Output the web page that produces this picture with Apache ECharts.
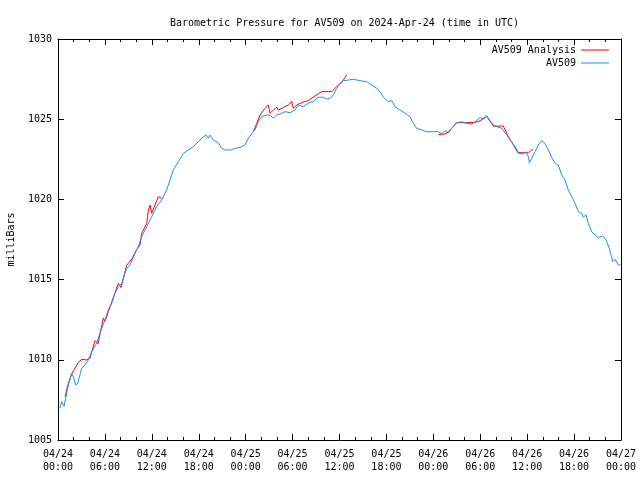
<!DOCTYPE html>
<html>
<head>
<meta charset="utf-8">
<script src="https://cdn.jsdelivr.net/npm/echarts@6/dist/echarts.min.js"></script>
<style>html,body{margin:0;padding:0;background:#fff}#c{width:640px;height:480px}</style>
</head>
<body>
<div id="c"></div>
<script>
// Hours since 2024-04-24 00:00 UTC
var stationHours = [0.26,0.47,0.77,1.11,1.32,1.75,1.96,2.26,2.52,3.03,3.45,3.88,4.31,4.95,5.59,6.01,6.43,6.87,7.29,7.71,8.15,8.48,8.79,9.21,9.85,10.27,10.7,11.34,11.98,12.62,13.26,13.9,14.32,14.75,15.39,16.03,16.66,17.3,17.94,18.58,18.93,19.22,19.44,19.86,20.5,20.94,21.36,22.22,22.64,23.28,23.92,24.34,24.77,25.19,25.62,26.05,26.69,27.11,27.54,27.97,28.61,29.03,29.67,30.31,30.73,31.37,32.01,32.65,33.29,33.93,34.36,34.79,35.21,35.64,36.07,36.49,37.13,37.77,38.62,39.48,40.12,40.76,41.18,41.6,42.24,42.68,43.1,43.74,44.38,45.02,45.44,45.88,46.52,47.15,48.0,48.64,49.07,49.49,49.92,50.35,50.99,51.63,52.27,52.91,53.33,53.97,54.39,54.83,55.25,55.89,56.75,57.39,58.03,58.45,58.87,59.51,59.85,60.15,60.28,60.58,61.0,61.43,61.86,62.28,62.71,63.14,63.56,63.98,64.42,64.84,65.26,65.7,66.12,66.54,66.98,67.18,67.53,67.82,68.26,68.68,69.1,69.66,70.09,70.51,70.94,71.24,71.66,71.96];
var stationPressure = [1006.98,1007.39,1007.1,1007.9,1008.43,1009.16,1008.95,1008.43,1008.53,1009.47,1009.68,1009.99,1010.5,1011.03,1011.96,1012.48,1013.1,1013.52,1014.15,1014.56,1014.77,1015.29,1015.7,1015.91,1016.64,1017.05,1017.67,1018.3,1018.92,1019.55,1019.96,1020.59,1021.2,1021.83,1022.35,1022.87,1023.08,1023.29,1023.6,1023.91,1024.01,1023.81,1024.01,1023.7,1023.53,1023.18,1023.08,1023.08,1023.18,1023.24,1023.39,1023.81,1024.11,1024.33,1024.84,1025.16,1025.26,1025.26,1025.06,1025.26,1025.36,1025.47,1025.41,1025.57,1025.89,1025.78,1026.0,1026.1,1026.37,1026.37,1026.25,1026.3,1026.51,1026.92,1027.24,1027.4,1027.44,1027.49,1027.4,1027.34,1027.13,1026.92,1026.72,1026.37,1026.1,1026.16,1025.78,1025.57,1025.37,1025.16,1024.74,1024.43,1024.33,1024.22,1024.22,1024.22,1024.08,1024.29,1024.16,1024.43,1024.78,1024.84,1024.74,1024.7,1024.84,1025.11,1024.99,1025.2,1024.84,1024.57,1024.43,1024.01,1023.6,1023.18,1022.87,1022.83,1022.97,1022.67,1022.29,1022.56,1022.97,1023.39,1023.66,1023.49,1023.08,1022.62,1022.25,1022.14,1021.52,1021.21,1020.59,1020.17,1019.76,1019.24,1019.13,1018.89,1019.03,1018.51,1017.99,1017.78,1017.61,1017.72,1017.47,1016.95,1016.12,1016.26,1015.91,1015.91];

var analysisHours1 = [0.9,1.32,1.75,2.17,2.6,3.03,3.67,4.09,4.73,5.12,5.79,6.01,6.65,7.16,7.71,8.06,8.79,9.46,9.98,10.49,10.7,11.34,11.55,11.77,11.98,12.41,12.83,13.26];
var analysisPressure1 = [1007.7,1008.53,1009.1,1009.47,1009.82,1010.03,1009.99,1010.1,1011.2,1011.0,1012.6,1012.4,1013.3,1014.0,1014.77,1014.5,1015.9,1016.3,1016.8,1017.16,1017.88,1018.5,1019.34,1019.65,1019.13,1019.65,1020.17,1020.07];
var analysisHours2 = [24.98,25.41,25.83,26.47,26.9,27.11,27.54,27.97,28.18,28.81,29.45,29.89,30.09,30.53,31.17,32.01,32.87,33.73,35.0,35.64,36.28,36.92];
var analysisPressure2 = [1024.22,1024.74,1025.26,1025.67,1025.89,1025.37,1025.57,1025.74,1025.57,1025.72,1025.89,1026.1,1025.67,1025.89,1026.04,1026.16,1026.45,1026.72,1026.72,1027.03,1027.28,1027.76];
var analysisHours3 = [48.64,49.49,49.92,50.35,50.99,52.27,53.33,53.97,54.83,55.04,55.25,55.67,56.95,57.39,57.81,58.45,58.87,60.15,60.58,60.75];
var analysisPressure3 = [1024.05,1024.08,1024.2,1024.43,1024.78,1024.78,1024.8,1024.9,1025.2,1025.16,1024.91,1024.57,1024.57,1024.12,1023.7,1023.29,1022.91,1022.91,1023.08,1023.1];

var yTicks = [1005,1010,1015,1020,1025,1030];
var xTickHours = [0,6,12,18,24,30,36,42,48,54,60,66,72];

function pairs(h, v){ return h.map(function(x,i){ return [x, v[i]]; }); }
function pad(n){ return (n<10?'0':'')+n; }
function xLabel(h){
  var d = 24 + Math.floor(h/24);
  var hr = Math.round(h % 24);
  return '04/' + pad(d) + '\n' + pad(hr) + ':00';
}

var FONT = 'DejaVu Sans Mono';
var RED = '#ff0000', BLUE = '#1e8cff';
var chart = echarts.init(document.getElementById('c'), null, {renderer:'canvas'});

var xCommon = {
  type:'value', min:xTickHours[0], max:xTickHours[xTickHours.length-1], interval:6,
  axisLine:{show:true, onZero:false, lineStyle:{color:'#000', width:1}},
  axisTick:{show:true, inside:true, length:6, lineStyle:{color:'#000'}},
  minorTick:{show:true, splitNumber:3, length:3, lineStyle:{color:'#000'}},
  splitLine:{show:false}
};
var yCommon = {
  type:'value', min:yTicks[0], max:yTicks[yTicks.length-1], interval:5,
  axisLine:{show:true, onZero:false, lineStyle:{color:'#000', width:1}},
  axisTick:{show:true, inside:true, length:6, lineStyle:{color:'#000'}},
  splitLine:{show:false}
};

function seg(name, h, v, color){
  return {name:name, type:'line', data:pairs(h,v), xAxisIndex:0, yAxisIndex:0,
    showSymbol:false, symbol:'none', lineStyle:{color:color, width:1}, itemStyle:{color:color},
    animation:false, silent:true};
}

chart.setOption({
  animation:false,
  backgroundColor:'#fff',
  title:{text:'Barometric Pressure for AV509 on 2024-Apr-24 (time in UTC)', left:339.5, textAlign:'center', top:13,
    textStyle:{fontFamily:FONT, fontSize:10, fontWeight:'normal', color:'#000'}},
  grid:{left:58, right:19, top:39, bottom:40, containLabel:false, outerBoundsMode:'none'},
  legend:[
    {data:['AV509 Analysis'], right:26, top:40, orient:'vertical', align:'right', itemWidth:28, itemHeight:1, icon:'rect',
      textStyle:{fontFamily:FONT, fontSize:10, color:'#000'}, selectedMode:false},
    {data:['AV509'], right:26, top:53, orient:'vertical', align:'right', itemWidth:28, itemHeight:1, icon:'rect',
      textStyle:{fontFamily:FONT, fontSize:10, color:'#000'}, selectedMode:false}
  ],
  xAxis:[
    Object.assign({}, xCommon, {position:'bottom',
      axisLabel:{show:true, margin:8, formatter:xLabel, fontFamily:FONT, fontSize:10, color:'#000', lineHeight:13}}),
    Object.assign({}, xCommon, {position:'top', axisLabel:{show:false}})
  ],
  yAxis:[
    Object.assign({}, yCommon, {position:'left', name:'milliBars', nameLocation:'middle', nameRotate:90, nameGap:42,
      nameTextStyle:{fontFamily:FONT, fontSize:10, color:'#000'},
      axisLabel:{show:true, margin:6, fontFamily:FONT, fontSize:10, color:'#000', formatter:function(v){return String(v);}}}),
    Object.assign({}, yCommon, {position:'right', axisLabel:{show:false}})
  ],
  series:[
    seg('AV509 Analysis', analysisHours1, analysisPressure1, RED),
    seg('AV509 Analysis', analysisHours2, analysisPressure2, RED),
    seg('AV509 Analysis', analysisHours3, analysisPressure3, RED),
    seg('AV509', stationHours, stationPressure, BLUE)
  ]
});
</script>
</body>
</html>
